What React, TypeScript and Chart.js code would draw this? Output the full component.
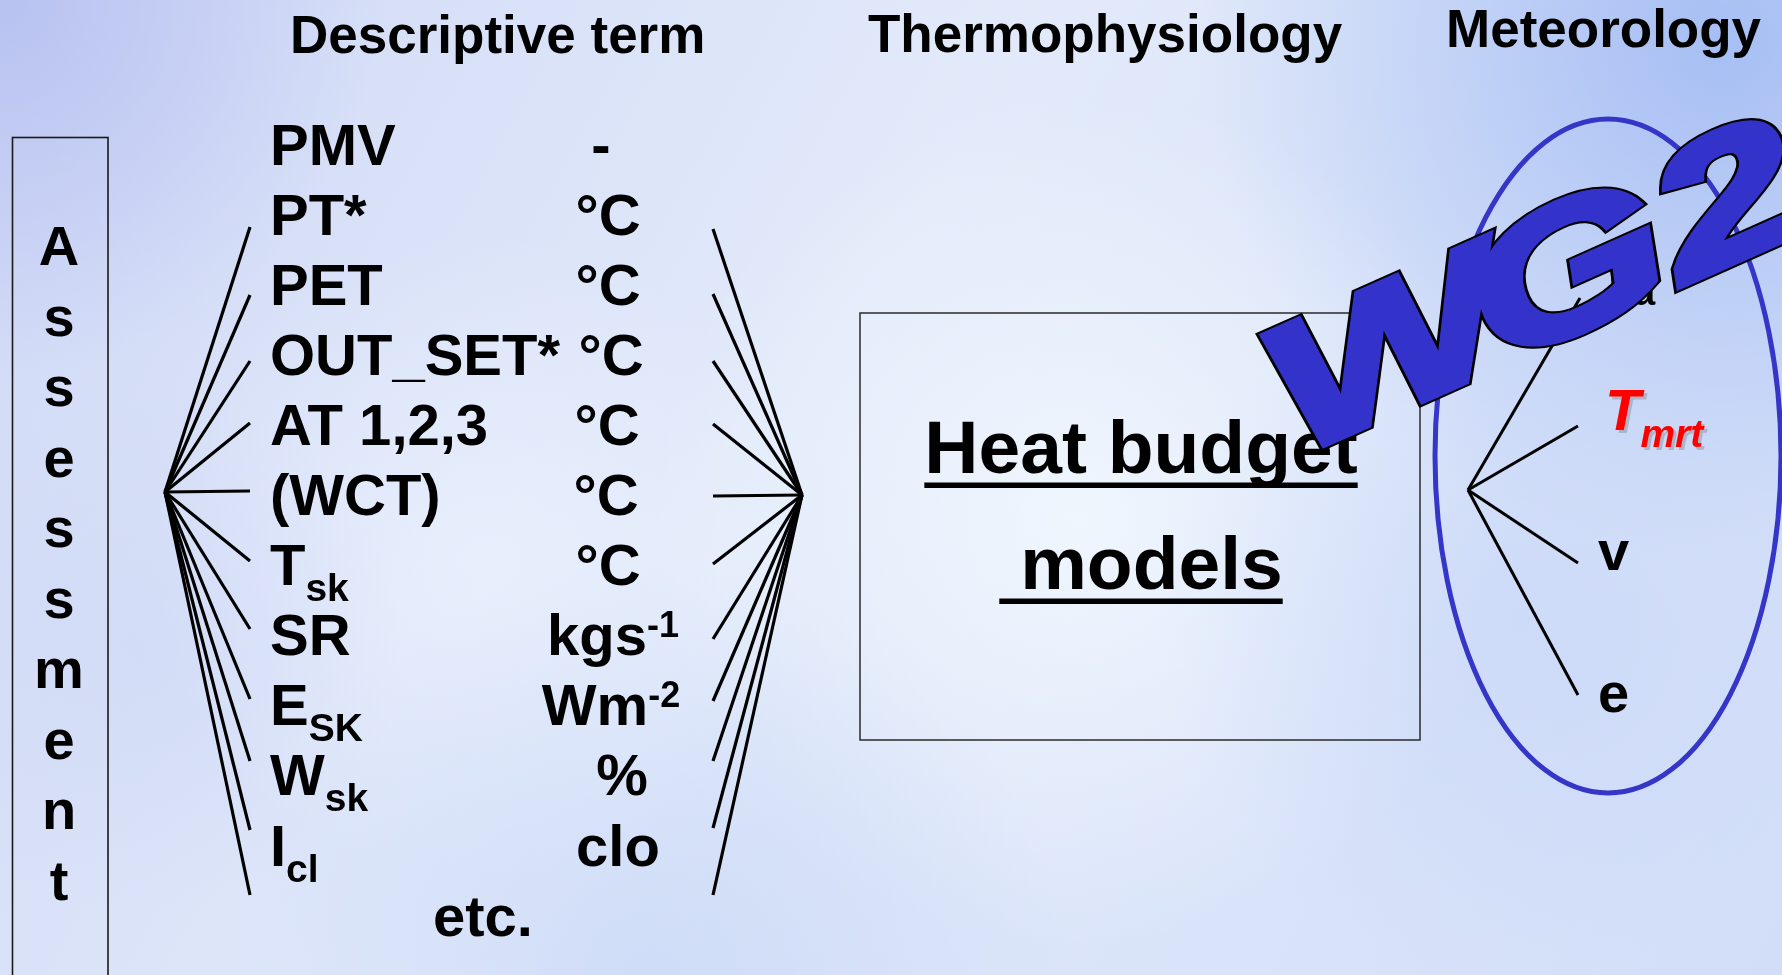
import React, { useEffect, useRef } from "react";
import { Chart, registerables } from "chart.js";

Chart.register(...registerables);

// ---------------- data ----------------
const headers = ["Descriptive term", "Thermophysiology", "Meteorology"];
const assessmentLetters = ["A", "s", "s", "e", "s", "s", "m", "e", "n", "t"];
const descriptiveTerms = ["PMV", "PT*", "PET", "OUT_SET*", "AT 1,2,3", "(WCT)", "T", "SR", "E", "W", "I"];
const termSubscripts = ["", "", "", "", "", "", "sk", "", "SK", "sk", "cl"];
const termUnits = ["-", "°C", "°C", "°C", "°C", "°C", "°C", "kgs", "Wm", "%", "clo"];
const unitSuperscripts = ["", "", "", "", "", "", "", "-1", "-2", "", ""];
const trailingTerm = "etc.";
const modelLines = ["Heat budget", " models"];
const meteoVariables = ["T", "T", "v", "e"];
const meteoSubscripts = ["a", "mrt", "", ""];
const badgeLetters = ["W", "G", "2"];

// fan line end heights (y, pixels from top of the slide)
const leftFanEnds = [227, 295, 361, 423, 491, 561, 629, 699, 761, 830, 895];
const rightFanEnds = [229, 294, 361, 424, 496, 564, 639, 701, 761, 828, 895];
const meteoFanEnds = [298, 426, 563, 695];

// ---------------- layout / styles ----------------
const W = 1782;
const H = 975;
const FONT = "'Liberation Sans', Arial, Helvetica, sans-serif";
const LEFT_APEX = { x: 165, y: 492 };
const LEFT_END_X = 250;
const RIGHT_APEX = { x: 802, y: 495 };
const RIGHT_END_X = 713;
const METEO_APEX = { x: 1468, y: 490 };
const METEO_END_X = [1580, 1578, 1578, 1578];
const ROW0 = 165;
const ROW_STEP = 70.05;
const LABEL_X = 270;
const UNIT_CENTER_X = [601, 608, 608, 611, 607, 606, 608, 613, 611, 622, 618];
const HEADER_POS = [
  { x: 290, y: 53 },
  { x: 868, y: 52 },
  { x: 1446, y: 47 },
];
const METEO_POS = [
  { x: 1598, y: 288, color: "#000", italic: false },
  { x: 1605, y: 430, color: "#ff0000", italic: true },
  { x: 1598, y: 570, color: "#000", italic: false },
  { x: 1598, y: 712, color: "#000", italic: false },
];
const BADGE_KERN = [0, -18, 2]; // extra shift of each glyph relative to the previous one
const BLOBS = [
  { x: 0, y: 0, r: 380, c: "rgba(180,190,240,0.85)" },
  { x: 1720, y: 40, r: 520, c: "rgba(158,184,243,0.85)" },
  { x: 1080, y: 520, r: 430, c: "rgba(246,251,255,0.75)" },
  { x: 480, y: 560, r: 330, c: "rgba(240,246,255,0.55)" },
  { x: 1520, y: 620, r: 360, c: "rgba(196,212,248,0.55)" },
  { x: 650, y: 980, r: 420, c: "rgba(192,210,246,0.55)" },
  { x: 140, y: 650, r: 260, c: "rgba(205,215,245,0.5)" },
];

type Run = { text: string; size: number; dy?: number; style?: string; color?: string };

function drawRuns(ctx: CanvasRenderingContext2D, runs: Run[], x: number, y: number, align: "left" | "center") {
  const widths = runs.map((r) => {
    ctx.font = `${r.style || "bold"} ${r.size}px ${FONT}`;
    return ctx.measureText(r.text).width;
  });
  const total = widths.reduce((a, b) => a + b, 0);
  let cx = align === "center" ? x - total / 2 : x;
  const left = cx;
  runs.forEach((r, i) => {
    ctx.font = `${r.style || "bold"} ${r.size}px ${FONT}`;
    ctx.fillStyle = r.color || "#000";
    ctx.fillText(r.text, cx, y + (r.dy || 0));
    cx += widths[i];
  });
  return { left, width: total };
}

export default function App() {
  const canvasRef = useRef<HTMLCanvasElement | null>(null);

  useEffect(() => {
    document.body.style.margin = "0";
    document.documentElement.style.overflow = "hidden";
    const canvas = canvasRef.current;
    if (!canvas) return;

    const line = (a: { x: number; y: number }, b: { x: number; y: number }, w = 3.2) => ({
      type: "scatter" as const,
      data: [a, b],
      showLine: true,
      borderColor: "#000",
      borderWidth: w,
      pointRadius: 0,
      fill: false,
    });

    const datasets: any[] = [
      ...leftFanEnds.map((y) => line(LEFT_APEX, { x: LEFT_END_X, y })),
      ...rightFanEnds.map((y) => line(RIGHT_APEX, { x: RIGHT_END_X, y })),
      ...meteoFanEnds.map((y, i) => line(METEO_APEX, { x: METEO_END_X[i], y }, 3)),
    ];

    const backgroundPlugin = {
      id: "bg",
      beforeDraw(chart: any) {
        const ctx: CanvasRenderingContext2D = chart.ctx;
        ctx.save();
        const g = ctx.createLinearGradient(0, 0, W, H);
        g.addColorStop(0, "#d0d9f6");
        g.addColorStop(0.45, "#e2eafa");
        g.addColorStop(1, "#d2def8");
        ctx.fillStyle = g;
        ctx.fillRect(0, 0, W, H);
        BLOBS.forEach((b) => {
          const rg = ctx.createRadialGradient(b.x, b.y, 0, b.x, b.y, b.r);
          rg.addColorStop(0, b.c);
          rg.addColorStop(1, b.c.replace(/[\d.]+\)$/, "0)"));
          ctx.fillStyle = rg;
          ctx.fillRect(0, 0, W, H);
        });
        ctx.restore();
      },
    };

    const shapesPlugin = {
      id: "shapes",
      beforeDatasetsDraw(chart: any) {
        const ctx: CanvasRenderingContext2D = chart.ctx;
        const px = (v: number) => chart.scales.x.getPixelForValue(v);
        const py = (v: number) => chart.scales.y.getPixelForValue(v);
        ctx.save();
        // Assessment box
        ctx.strokeStyle = "#1a1a1a";
        ctx.lineWidth = 1.6;
        ctx.strokeRect(px(12.5), py(137.5), px(108) - px(12.5), py(990) - py(137.5));
        // model box
        ctx.strokeStyle = "#2a2a2a";
        ctx.lineWidth = 1.5;
        ctx.strokeRect(px(860), py(313), px(1420) - px(860), py(740) - py(313));
        // meteorology ellipse
        ctx.beginPath();
        ctx.ellipse(px(1608), py(456), px(1781) - px(1608), py(793) - py(456), 0, 0, Math.PI * 2);
        ctx.strokeStyle = "#3535c8";
        ctx.lineWidth = 5;
        ctx.stroke();
        ctx.restore();
      },
      afterDatasetsDraw(chart: any) {
        const ctx: CanvasRenderingContext2D = chart.ctx;
        const px = (v: number) => chart.scales.x.getPixelForValue(v);
        const py = (v: number) => chart.scales.y.getPixelForValue(v);
        ctx.save();
        ctx.textBaseline = "alphabetic";
        ctx.textAlign = "left";

        // headers
        headers.forEach((h, i) => {
          drawRuns(ctx, [{ text: h, size: 53 }], px(HEADER_POS[i].x), py(HEADER_POS[i].y), "left");
        });

        // Assessment letters
        assessmentLetters.forEach((l, i) => {
          drawRuns(ctx, [{ text: l, size: 56 }], px(59), py(265 + i * 70.5), "center");
        });

        // descriptive terms and units
        descriptiveTerms.forEach((t, i) => {
          const by = py(ROW0 + i * ROW_STEP);
          const runs: Run[] = [{ text: t, size: 58 }];
          if (termSubscripts[i]) runs.push({ text: termSubscripts[i], size: 39, dy: 16 });
          drawRuns(ctx, runs, px(LABEL_X), by, "left");
          const uRuns: Run[] = [{ text: termUnits[i], size: 58 }];
          if (unitSuperscripts[i]) uRuns.push({ text: unitSuperscripts[i], size: 36, dy: -18 });
          drawRuns(ctx, uRuns, px(UNIT_CENTER_X[i]), by, "center");
        });
        drawRuns(ctx, [{ text: trailingTerm, size: 58 }], px(433), py(ROW0 + 11 * ROW_STEP), "left");

        // heat budget models (underlined)
        const modelBaselines = [473, 589];
        modelLines.forEach((m, i) => {
          const r = drawRuns(ctx, [{ text: m, size: 75 }], px(1141), py(modelBaselines[i]), "center");
          ctx.fillStyle = "#000";
          ctx.fillRect(r.left, py(modelBaselines[i]) + 9.5, r.width, 5.5);
        });

        // meteorological variables
        meteoVariables.forEach((v, i) => {
          const p = METEO_POS[i];
          const style = p.italic ? "italic bold" : "bold";
          const runs: Run[] = [{ text: v, size: v === "T" ? 58 : 56, style, color: p.color }];
          if (meteoSubscripts[i]) runs.push({ text: meteoSubscripts[i], size: 39, dy: 17, style, color: p.color });
          if (p.italic) {
            drawRuns(
              ctx,
              runs.map((r) => ({ ...r, color: "rgba(150,150,160,0.55)" })),
              px(p.x) + 3,
              py(p.y) + 3,
              "left"
            );
          }
          drawRuns(ctx, runs, px(p.x), py(p.y), "left");
        });

        // WG2 badge (heavy, outlined, rotated)
        ctx.save();
        ctx.translate(px(1298), py(456));
        ctx.rotate((-24 * Math.PI) / 180);
        ctx.scale(1.44, 1);
        ctx.font = `italic bold 180px ${FONT}`;
        ctx.lineJoin = "miter";
        ctx.miterLimit = 3;
        const xs: number[] = [];
        let acc = 0;
        badgeLetters.forEach((l, i) => {
          acc += BADGE_KERN[i];
          xs.push(acc);
          acc += ctx.measureText(l).width;
        });
        const passes: [string, number | null][] = [
          ["#000", 11],
          ["#3333cc", 7],
          ["#3333cc", null],
        ];
        passes.forEach(([color, lw]) => {
          badgeLetters.forEach((l, i) => {
            if (lw === null) {
              ctx.fillStyle = color;
              ctx.fillText(l, xs[i], 0);
            } else {
              ctx.strokeStyle = color;
              ctx.lineWidth = lw;
              ctx.strokeText(l, xs[i], 0);
            }
          });
        });
        ctx.restore();

        ctx.restore();
      },
    };

    const chart = new Chart(canvas, {
      type: "scatter",
      data: { datasets },
      options: {
        animation: false,
        responsive: false,
        devicePixelRatio: 1,
        events: [],
        layout: { padding: 0 },
        plugins: { legend: { display: false }, tooltip: { enabled: false } },
        scales: {
          x: { type: "linear", min: 0, max: W, display: false },
          y: { type: "linear", min: 0, max: H, reverse: true, display: false },
        },
      },
      plugins: [backgroundPlugin, shapesPlugin],
    });
    return () => chart.destroy();
  }, []);

  return (
    <div style={{ width: W, height: H, overflow: "hidden" }}>
      <canvas ref={canvasRef} width={W} height={H} style={{ display: "block", width: W, height: H }} />
    </div>
  );
}
